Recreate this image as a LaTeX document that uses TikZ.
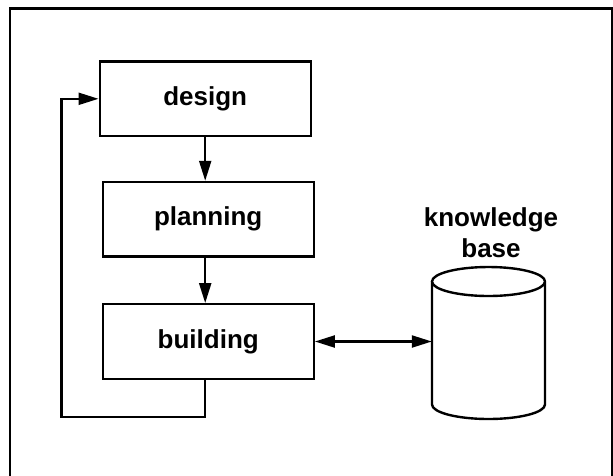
\documentclass[tikz,border=0pt]{standalone}
\usepackage{fontspec}
\setmainfont{Liberation Sans}
\usetikzlibrary{arrows.meta}
\begin{document}
\begin{tikzpicture}[x=1pt,y=-1pt,
  stagebox/.style={draw,line width=2.4pt,minimum width=211pt,minimum height=74.5pt,inner sep=0pt,
    font=\fontsize{26}{31.5}\selectfont\bfseries},
  conn/.style={line width=2.2pt,-{Triangle[length=20pt,width=12pt]}},
  biconn/.style={line width=2.2pt,{Triangle[length=20pt,width=12pt]}-{Triangle[length=20pt,width=12pt]}},
  lbl/.style={font=\fontsize{26}{31.5}\selectfont\bfseries,align=center,inner sep=0pt}]
\useasboundingbox (0,0) rectangle (613,475);
\draw[line width=2.4pt] (9.8,8.3) rectangle (611.8,500);
\node[stagebox] (design) at (205.2,98.8) {design};
\node[stagebox] (planning) at (208.2,219.2) {planning};
\node[stagebox] (building) at (208.2,341.5) {building};
% cylinder
\draw[line width=2.4pt] (432,281.5) -- (432,404.5) arc[start angle=180,end angle=0,x radius=56.5,y radius=14.5]
  -- (545,281.5) arc[start angle=0,end angle=-180,x radius=56.5,y radius=14.5]
  arc[start angle=180,end angle=360,x radius=56.5,y radius=-14.5];
\node[minimum width=113pt,minimum height=123pt,inner sep=0pt] (kb) at (488.5,343) {};
\node[lbl] (kblabel) at (491,232.5) {knowledge\\base};
\draw[conn] (design.south) -- (design.south |- planning.north);
\draw[conn] (design.south |- planning.south) -- (design.south |- building.north);
\draw[biconn] (building.east) -- (building.east -| kb.west);
\coordinate (loopA) at (205.2,417);
\coordinate (loopB) at (61.4,417);
\draw[conn] (design.south |- building.south) -- (loopA) -- (loopB) -- (loopB |- design.west) -- (design.west);
\end{tikzpicture}
\end{document}
